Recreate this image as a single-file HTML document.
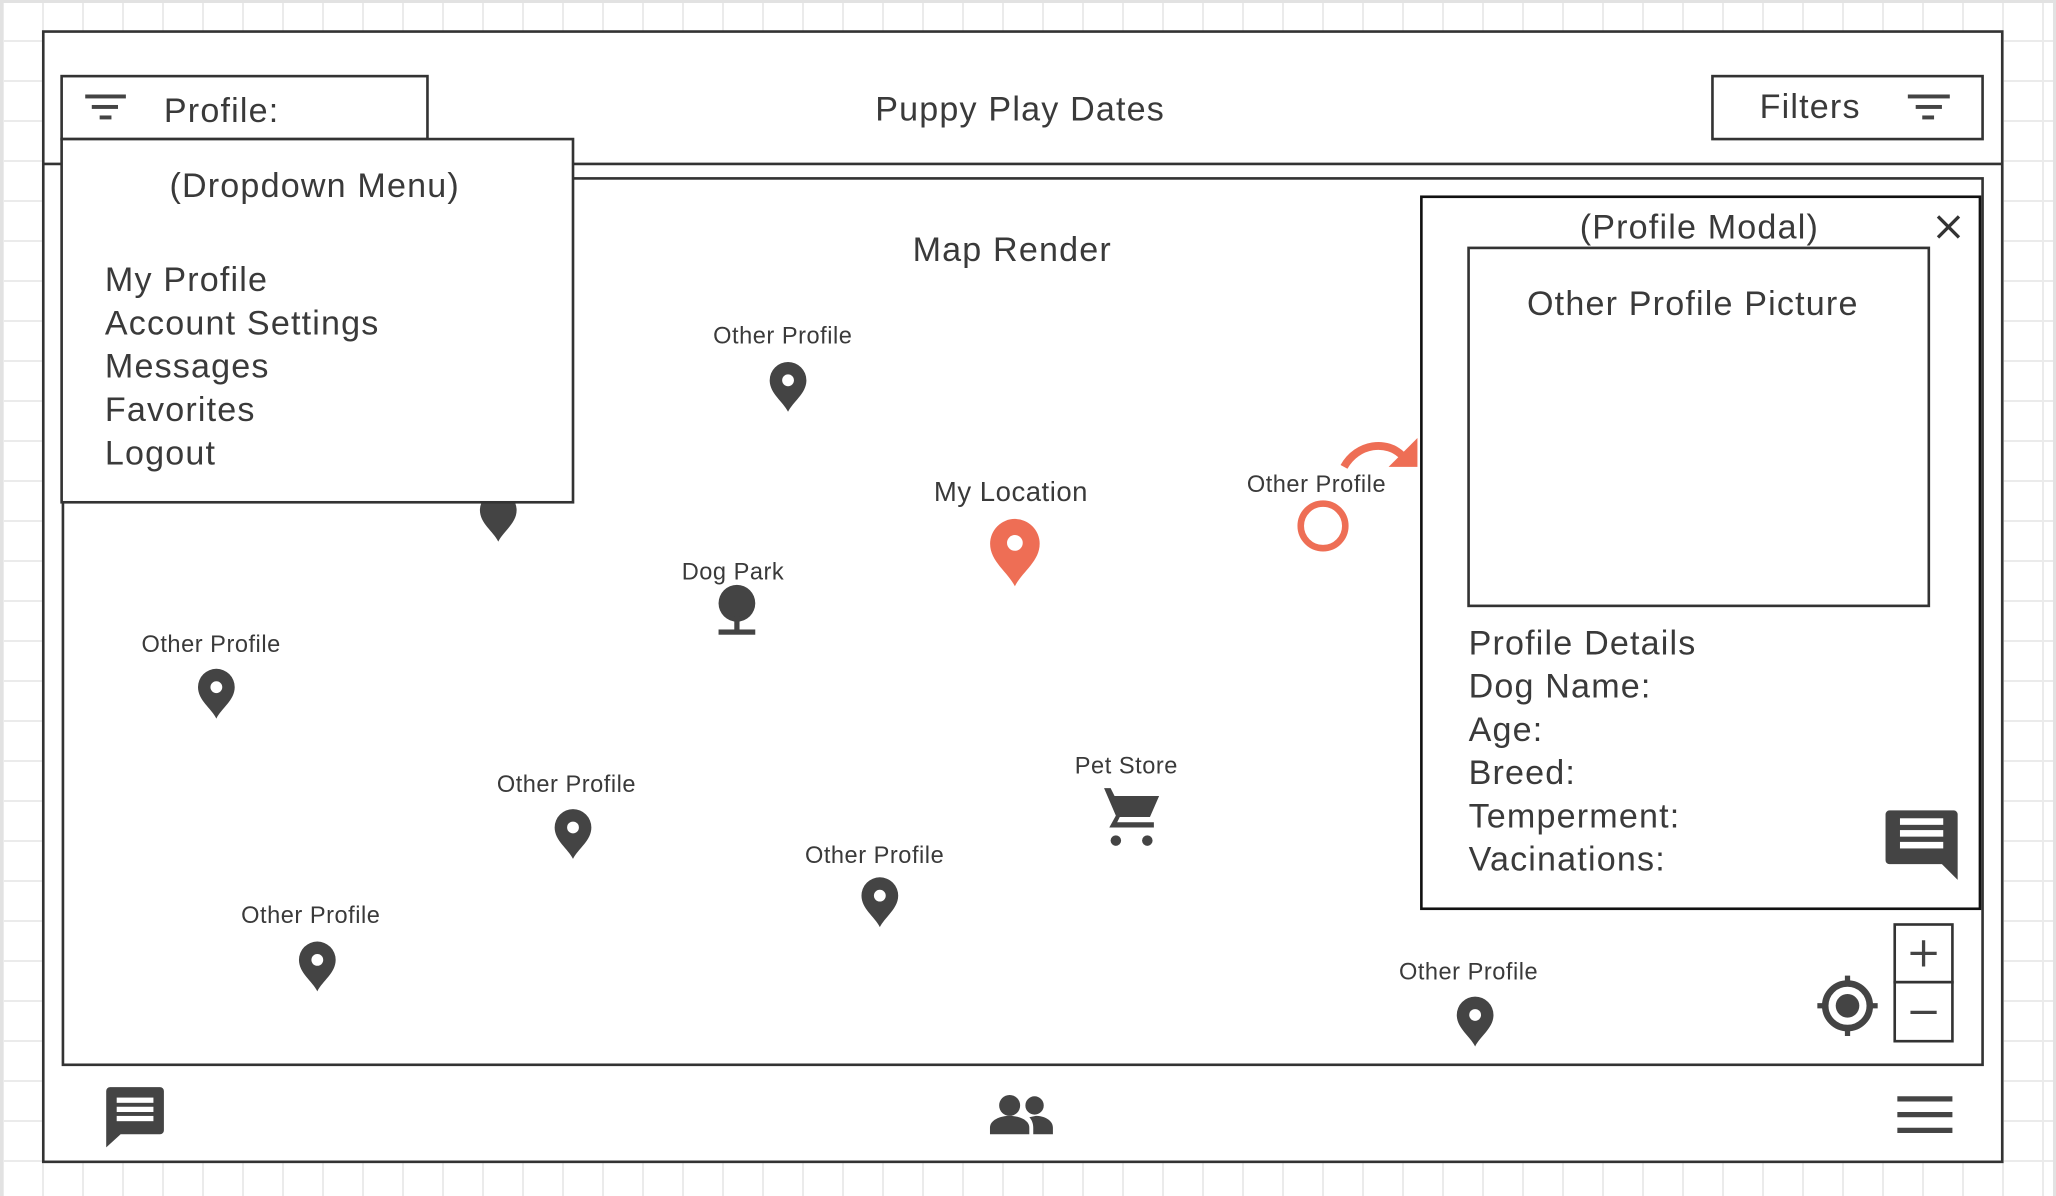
<!DOCTYPE html>
<html><head><meta charset="utf-8"><style>
html,body{margin:0;padding:0;}
body{width:2056px;height:1196px;overflow:hidden;background-color:#fff;
background-image:linear-gradient(#ebebeb 2px,transparent 2px),linear-gradient(90deg,#ebebeb 2px,transparent 2px);
background-size:40px 40px;background-position:0 0,2px 0;}
svg{position:absolute;left:0;top:0;}
text{font-family:"Liberation Sans",sans-serif;fill:#3a3a3a;}
.b{letter-spacing:0.9px;}
.s{letter-spacing:0.4px;}
</style></head><body>
<div style="position:absolute;left:0;top:0;width:2050px;height:1193px;border:3px solid #e2e2e2;border-bottom:none;"></div>
<svg width="2056" height="1196" viewBox="0 0 1568 912">
<defs>
<path id="pin" d="M0,20 C-4,12 -14,6 -14,-4 A14,14 0 1 1 14,-4 C14,6 4,12 0,20 Z"/>
</defs>
<rect x="33" y="24" width="1494" height="862" fill="#fff" stroke="#333" stroke-width="2"/>
<line x1="33" y1="125" x2="1527" y2="125" stroke="#333" stroke-width="2"/>
<rect x="48" y="136" width="1464" height="676" fill="#fff" stroke="#333" stroke-width="2"/>
<rect x="47" y="58" width="279" height="48" fill="#fff" stroke="#333" stroke-width="2"/>
<g fill="#444"><rect x="65" y="72" width="31" height="3"/><rect x="70" y="80" width="20" height="3"/><rect x="76" y="88" width="9" height="3"/></g>
<text class="b" x="125" y="93" font-size="26">Profile:</text>
<text class="b" x="778" y="92" font-size="26" text-anchor="middle">Puppy Play Dates</text>
<rect x="1306" y="58" width="206" height="48" fill="#fff" stroke="#333" stroke-width="2"/>
<text class="b" x="1342" y="90" font-size="26">Filters</text>
<g fill="#444"><rect x="1455" y="72" width="32" height="3"/><rect x="1461" y="80" width="20" height="3"/><rect x="1466" y="88" width="9" height="3"/></g>
<text class="b" x="772" y="199" font-size="26" text-anchor="middle">Map Render</text>
<g font-size="18" text-anchor="middle" class="s">
<text x="597" y="262">Other Profile</text>
<text x="161" y="497">Other Profile</text>
<text x="432" y="604">Other Profile</text>
<text x="667" y="658">Other Profile</text>
<text x="237" y="704">Other Profile</text>
<text x="1120" y="747">Other Profile</text>
<text x="1004" y="375">Other Profile</text>
<text x="559" y="442">Dog Park</text>
<text x="859" y="590">Pet Store</text>
</g>
<text class="s" x="771" y="382" font-size="21" text-anchor="middle">My Location</text>
<g fill="#444">
<use href="#pin" transform="translate(601,294)"/>
<use href="#pin" transform="translate(380,393)"/>
<use href="#pin" transform="translate(165,528)"/>
<use href="#pin" transform="translate(437,635)"/>
<use href="#pin" transform="translate(671,687)"/>
<use href="#pin" transform="translate(242,736)"/>
<use href="#pin" transform="translate(1125,778)"/>
</g>
<g fill="#fff">
<circle cx="601" cy="290" r="4.5"/><circle cx="165" cy="524" r="4.5"/><circle cx="437" cy="631" r="4.5"/>
<circle cx="671" cy="683" r="4.5"/><circle cx="242" cy="732" r="4.5"/><circle cx="1125" cy="774" r="4.5"/>
</g>
<use href="#pin" fill="#ee6e55" transform="translate(774,420) scale(1.35)"/>
<circle cx="774" cy="414" r="6" fill="#fff"/>
<circle cx="562" cy="460" r="14" fill="#444"/>
<rect x="560" y="470" width="4" height="12" fill="#444"/>
<rect x="548" y="480" width="28" height="4" fill="#444"/>
<g fill="#444">
<path d="M838,601 h9 l3,6 h34 l-7,16 h-23 l-2,4 h28 v4 h-34 l5,-9 l-9,-21 h-4 z"/>
<circle cx="851" cy="641" r="4"/><circle cx="875" cy="641" r="4"/>
</g>
<circle cx="1009" cy="401" r="17" fill="none" stroke="#ee6e55" stroke-width="5"/>
<path d="M1025,356 C1035,338 1058,335 1070,348" fill="none" stroke="#ee6e55" stroke-width="6"/>
<path d="M1081,334 L1081,356 L1059,356 Z" fill="#ee6e55"/>
<rect x="47" y="106" width="390" height="277" fill="#fff" stroke="#333" stroke-width="2"/>
<text class="b" x="240" y="150" font-size="26" text-anchor="middle">(Dropdown Menu)</text>
<g font-size="26" class="b">
<text x="80" y="222">My Profile</text>
<text x="80" y="255">Account Settings</text>
<text x="80" y="288">Messages</text>
<text x="80" y="321">Favorites</text>
<text x="80" y="354">Logout</text>
</g>
<rect x="1084" y="150" width="426" height="543" fill="#fff" stroke="#111" stroke-width="2"/>
<text class="b" x="1296" y="182" font-size="26" text-anchor="middle">(Profile Modal)</text>
<path d="M1478,165 L1494,181 M1494,165 L1478,181" stroke="#333" stroke-width="2.5"/>
<rect x="1120" y="189" width="351" height="273" fill="#fff" stroke="#333" stroke-width="2"/>
<text class="b" x="1291" y="240" font-size="26" text-anchor="middle">Other Profile Picture</text>
<g font-size="26" class="b">
<text x="1120" y="499">Profile Details</text>
<text x="1120" y="532">Dog Name:</text>
<text x="1120" y="565">Age:</text>
<text x="1120" y="598">Breed:</text>
<text x="1120" y="631">Temperment:</text>
<text x="1120" y="664">Vacinations:</text>
</g>
<path d="M1441,618 h49 a3,3 0 0 1 3,3 v50 l-12,-12 h-40 a3,3 0 0 1 -3,-3 v-35 a3,3 0 0 1 3,-3 z" fill="#444"/>
<g fill="#fff"><rect x="1449" y="624" width="33" height="5"/><rect x="1449" y="633" width="33" height="5"/><rect x="1449" y="642" width="33" height="5"/></g>
<rect x="1445" y="705" width="44" height="44" fill="#fff" stroke="#333" stroke-width="2"/>
<rect x="1445" y="749" width="44" height="45" fill="#fff" stroke="#333" stroke-width="2"/>
<path d="M1467,717 v20 M1457,727 h20 M1457,772 h20" stroke="#444" stroke-width="2.5"/>
<circle cx="1409" cy="767" r="17" fill="none" stroke="#444" stroke-width="5"/>
<circle cx="1409" cy="767" r="9" fill="#444"/>
<path d="M1409,744 v8 M1409,782 v8 M1386,767 h8 M1424,767 h8" stroke="#444" stroke-width="4"/>
<path d="M84,829 h38 a3,3 0 0 1 3,3 v30 a3,3 0 0 1 -3,3 h-30 l-11,10 v-43 a3,3 0 0 1 3,-3 z" fill="#444"/>
<g fill="#fff"><rect x="89" y="837" width="28" height="4"/><rect x="89" y="844" width="28" height="4"/><rect x="89" y="851" width="28" height="4"/></g>
<g fill="#444">
<circle cx="770" cy="843" r="8"/><circle cx="789" cy="843" r="7"/>
<path d="M755,865 v-5 c0,-6 8,-9 15,-9 c7,0 15,3 15,9 v5 z"/>
<path d="M790,851 c6,0 13,3 13,9 v5 h-15 v-5 c0,-3 -1,-6 -3,-8 z"/>
</g>
<g fill="#444"><rect x="1447" y="836" width="42" height="4"/><rect x="1447" y="848" width="42" height="4"/><rect x="1447" y="860" width="42" height="4"/></g>
</svg>
</body></html>
